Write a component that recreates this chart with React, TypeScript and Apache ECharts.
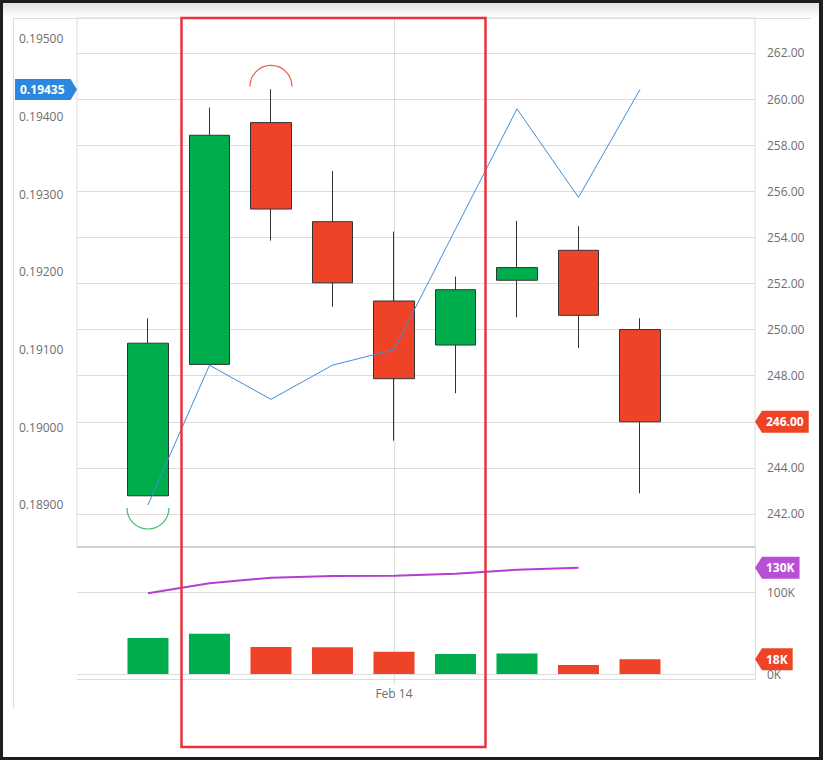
import React, { useEffect, useRef } from "react";
import * as echarts from "echarts";

// ---------- data ----------
const candleIndex = [0, 1, 2, 3, 4, 5, 6, 7, 8];
const opens = [242.79, 248.49, 258.98, 254.68, 251.24, 249.33, 252.14, 253.44, 250.0];
const closes = [249.41, 258.43, 255.23, 252.03, 247.87, 251.73, 252.69, 250.62, 246.0];
const lows = [242.79, 248.49, 253.86, 250.99, 245.18, 247.24, 250.53, 249.2, 242.9];
const highs = [250.49, 259.63, 260.43, 256.88, 254.25, 252.3, 254.72, 254.49, 250.49];
const comparePrice = [0.189, 0.1908, 0.19036, 0.1908, 0.191, 0.19255, 0.1941, 0.19296, 0.19435];
const volumes = [44000, 49000, 33000, 32500, 27000, 24400, 25000, 11000, 18000];
const volumeMA = [98400, 110600, 117400, 119500, 119900, 122300, 127200, 129600];
const priceTicks = [242, 244, 246, 248, 250, 252, 254, 256, 258, 260, 262];
const compareTicks = [0.189, 0.19, 0.191, 0.192, 0.193, 0.194, 0.195];
const volumeTicks = [0, 100000];
const dateTickIndex = [4];
const dateTickLabels = ["Feb 14"];
const extremeMarkers = [
  { index: 0, value: 242.26, side: "low" },
  { index: 2, value: 260.55, side: "high" },
];

// ---------- style ----------
const GREEN = "#00ad4c";
const RED = "#ee4326";
const BLUE_LINE = "#3f8edb";
const BLUE_BADGE = "#2c88de";
const PURPLE_LINE = "#b23fd2";
const PURPLE_BADGE = "#b94fd4";
const GRID = "#dcdcdc";
const LABEL = "#6e6e6e";
const FONT = '"Open Sans", sans-serif';

const X_MIN = -1.154;
const X_MAX = 9.87;

function buildOption() {
  const labelStyle = { color: LABEL, fontSize: 12, fontFamily: FONT };
  return {
    animation: false,
    textStyle: { fontFamily: FONT },
    grid: [
      { left: 77, top: 18, width: 678, height: 529, show: true, borderColor: GRID, borderWidth: 1 },
      { left: 77, top: 547, width: 678, height: 132 },
    ],
    xAxis: [
      {
        type: "value", gridIndex: 0, min: X_MIN, max: X_MAX,
        axisLine: { show: false, onZero: false },
        axisTick: { show: false, customValues: dateTickIndex },
        axisLabel: { show: false, customValues: dateTickIndex },
        splitLine: { show: true, lineStyle: { color: GRID } },
      },
      {
        type: "value", gridIndex: 1, min: X_MIN, max: X_MAX,
        axisLine: { show: true, onZero: false, lineStyle: { color: GRID } },
        axisTick: { show: true, customValues: dateTickIndex, length: 5, lineStyle: { color: GRID } },
        axisLabel: {
          ...labelStyle, customValues: dateTickIndex, margin: 8,
          formatter: (v: number) => dateTickLabels[dateTickIndex.indexOf(Math.round(v))] ?? "",
        },
        splitLine: { show: true, lineStyle: { color: GRID } },
      },
    ],
    yAxis: [
      {
        type: "value", gridIndex: 0, position: "left", min: 0.188459, max: 0.19527,
        axisLine: { show: false, onZero: false },
        axisTick: { show: false, customValues: compareTicks },
        splitLine: { show: false },
        axisLabel: { ...labelStyle, customValues: compareTicks, align: "left", margin: 58, formatter: (v: number) => v.toFixed(5) },
      },
      {
        type: "value", gridIndex: 0, position: "right", min: 240.568, max: 263.518,
        axisLine: { show: false, onZero: false },
        axisTick: { show: false, customValues: priceTicks },
        splitLine: { show: true, lineStyle: { color: GRID } },
        axisLabel: { ...labelStyle, customValues: priceTicks, margin: 12, formatter: (v: number) => v.toFixed(2) },
      },
      {
        type: "value", gridIndex: 1, position: "right", min: -6097, max: 154878,
        axisLine: { show: true, onZero: false, lineStyle: { color: GRID } },
        axisTick: { show: false, customValues: volumeTicks },
        splitLine: { show: true, lineStyle: { color: GRID } },
        axisLabel: { ...labelStyle, customValues: volumeTicks, margin: 12, formatter: (v: number) => Math.round(v / 1000) + "K" },
      },
    ],
    series: [
      {
        type: "candlestick", xAxisIndex: 0, yAxisIndex: 1, barWidth: 41,
        encode: { x: 0, y: [1, 2, 3, 4] },
        data: candleIndex.map((i) => [i, opens[i], closes[i], lows[i], highs[i]]),
        itemStyle: { color: GREEN, color0: RED, borderColor: "#333", borderColor0: "#333", borderWidth: 1 },
      },
      {
        type: "line", xAxisIndex: 0, yAxisIndex: 0, symbol: "none",
        data: comparePrice.map((v, i) => [candleIndex[i], v]),
        lineStyle: { color: BLUE_LINE, width: 1 },
      },
      {
        type: "bar", xAxisIndex: 1, yAxisIndex: 2, barWidth: 41,
        data: volumes.map((v, i) => ({
          value: [candleIndex[i], v],
          itemStyle: { color: closes[i] >= opens[i] ? GREEN : RED },
        })),
      },
      {
        type: "line", xAxisIndex: 1, yAxisIndex: 2, symbol: "none",
        data: volumeMA.map((v, i) => [candleIndex[i], v]),
        lineStyle: { color: PURPLE_LINE, width: 2 },
      },
    ],
  };
}

function measure(text: string, font: string) {
  const ctx = document.createElement("canvas").getContext("2d")!;
  ctx.font = font;
  return ctx.measureText(text).width;
}

function buildGraphics(chart: any) {
  const pt = (seriesIndex: number, x: number, y: number) =>
    chart.convertToPixel({ seriesIndex }, [x, y]) as number[];
  const els: any[] = [];
  const badgeFont = `bold 12px ${FONT}`;

  // frame lines
  els.push({ type: "line", silent: true, z: 5, shape: { x1: 13, y1: 18.5, x2: 811, y2: 18.5 }, style: { stroke: GRID, lineWidth: 1 } });
  els.push({ type: "line", silent: true, z: 5, shape: { x1: 13.5, y1: 18, x2: 13.5, y2: 708 }, style: { stroke: GRID, lineWidth: 1 } });
  els.push({ type: "line", silent: true, z: 5, shape: { x1: 77, y1: 547, x2: 755, y2: 547 }, style: { stroke: "#cfcfcf", lineWidth: 2 } });

  // extreme markers (arcs)
  extremeMarkers.forEach((m) => {
    const [cx, cy] = pt(0, m.index, m.value);
    const low = m.side === "low";
    els.push({
      type: "arc", silent: true, z: 60,
      shape: { cx, cy, r: 21, startAngle: low ? 0 : Math.PI, endAngle: low ? Math.PI : Math.PI * 2, clockwise: true },
      style: { stroke: low ? "#3fb96e" : "#ea5a45", fill: "none", lineWidth: 1.2 },
    });
  });

  const last = candleIndex.length - 1;

  // left badge (compare line)
  {
    const text = comparePrice[last].toFixed(5);
    const [, cy] = pt(1, candleIndex[last], comparePrice[last]);
    const w = measure(text, badgeFont);
    const right = 20 + w + 6;
    els.push({
      type: "polygon", silent: true, z: 80,
      shape: { points: [[15, cy - 10.5], [right, cy - 10.5], [77, cy], [right, cy + 10.5], [15, cy + 10.5]] },
      style: { fill: BLUE_BADGE },
    });
    els.push({ type: "text", silent: true, z: 81, style: { text, x: 20, y: cy, fill: "#fff", font: badgeFont, verticalAlign: "middle", align: "left" } });
  }

  const rightBadge = (text: string, cy: number, color: string) => {
    const w = measure(text, badgeFont);
    const right = 766 + w + 5;
    els.push({
      type: "polygon", silent: true, z: 80,
      shape: { points: [[755, cy], [762, cy - 11], [right, cy - 11], [right, cy + 11], [762, cy + 11]] },
      style: { fill: color },
    });
    els.push({ type: "text", silent: true, z: 81, style: { text, x: 766, y: cy, fill: "#fff", font: badgeFont, verticalAlign: "middle", align: "left" } });
  };

  rightBadge(closes[last].toFixed(2), pt(0, candleIndex[last], closes[last])[1], RED);
  const maLast = volumeMA.length - 1;
  rightBadge(Math.round(volumeMA[maLast] / 1000) + "K", pt(3, candleIndex[maLast], volumeMA[maLast])[1], PURPLE_BADGE);
  rightBadge(Math.round(volumes[last] / 1000) + "K", pt(2, candleIndex[last], volumes[last])[1], RED);

  // annotation rectangle
  els.push({
    type: "rect", silent: true, z: 100,
    shape: { x: 181.5, y: 18, width: 304, height: 729 },
    style: { fill: "none", stroke: "#e8323e", lineWidth: 2.5 },
  });

  return els;
}

export default function App() {
  const ref = useRef<HTMLDivElement>(null);
  useEffect(() => {
    const chart = echarts.init(ref.current!, null, { renderer: "svg" });
    chart.setOption(buildOption() as any);
    chart.setOption({ graphic: { elements: buildGraphics(chart) } } as any);
    return () => chart.dispose();
  }, []);
  return (
    <div style={{ position: "fixed", left: 0, top: 0, width: 823, height: 760, background: "#1e1e1e" }}>
      <div
        style={{
          position: "absolute", left: 3, top: 3, width: 816, height: 754,
          background: "linear-gradient(to bottom, #e2e2e2 0px, #f4f4f4 9px, #ffffff 15px)",
        }}
      />
      <div ref={ref} style={{ position: "absolute", left: 0, top: 0, width: 823, height: 760 }} />
    </div>
  );
}
